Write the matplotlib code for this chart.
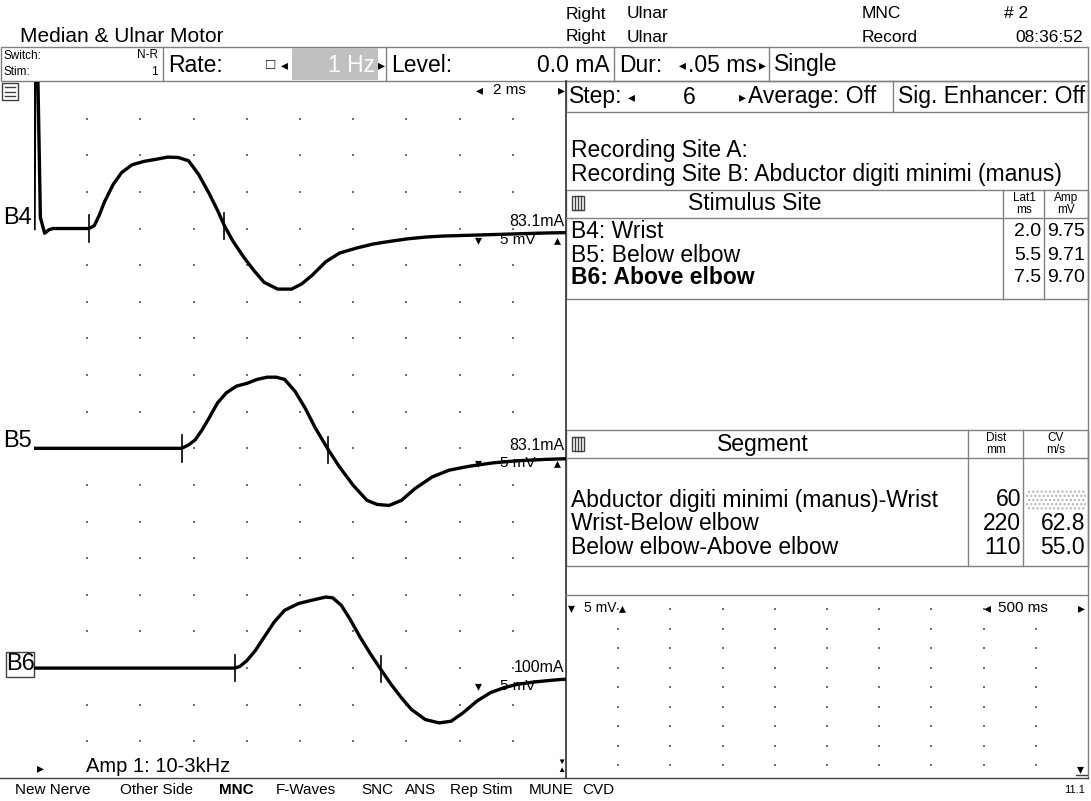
import numpy as np
import matplotlib

matplotlib.use("Agg")

import matplotlib.pyplot as plt
from matplotlib.patches import Rectangle

# motor responses: time (ms) and amplitude (mV) relative to each baseline
b4_t = [0.0, 0.04, 0.10, 0.24, 0.40, 0.55, 0.71, 2.06, 2.26, 2.45, 2.65, 2.97, 3.29, 3.68,
        4.13, 4.65, 5.03, 5.42, 5.81, 6.19, 6.58, 6.90, 7.16, 7.48, 7.87, 8.26, 8.65, 9.16,
        9.68, 10.06, 10.45, 10.97, 11.48, 12.13, 12.77, 13.42, 14.06, 14.71, 15.35, 16.65,
        17.94, 19.23, 20.0]
b4_mv = [0.0, 30.0, 30.0, 1.5, -0.65, -0.19, 0.0, 0.0, 0.37, 1.78, 3.64, 5.98, 7.62, 8.69,
         9.16, 9.49, 9.75, 9.70, 9.25, 7.38, 4.81, 2.48, 0.37, -1.73, -3.83, -5.70, -7.34, -8.27,
         -8.27, -7.57, -6.40, -4.53, -3.36, -2.66, -2.10, -1.73, -1.40, -1.17, -1.03, -0.89,
         -0.75, -0.61, -0.56]

b5_t = [0.0, 5.55, 5.81, 6.06, 6.32, 6.58, 6.90, 7.23, 7.61, 8.00, 8.39, 8.77, 9.10, 9.42,
        9.81, 10.19, 10.58, 11.07, 11.48, 12.00, 12.52, 12.90, 13.35, 13.81, 14.32, 14.97,
        15.61, 16.39, 17.29, 18.19, 19.23, 20.0]
b5_mv = [0.0, 0.0, 0.46, 1.15, 2.52, 4.13, 6.20, 7.57, 8.49, 8.86, 9.41, 9.71, 9.71, 9.41,
         7.80, 5.51, 2.75, -0.23, -2.52, -5.05, -7.11, -7.66, -7.80, -7.11, -5.51, -3.90,
         -2.98, -2.43, -1.97, -1.70, -1.51, -1.42]

b6_t = [0.0, 7.55, 7.74, 8.00, 8.32, 8.65, 9.03, 9.42, 9.94, 10.45, 10.97, 11.23, 11.55,
        11.87, 12.26, 12.65, 13.03, 13.42, 13.81, 14.19, 14.71, 15.23, 15.68, 16.13, 16.65,
        17.16, 17.68, 18.19, 18.84, 19.61, 20.0]
b6_mv = [0.0, 0.0, 0.23, 1.01, 2.39, 4.22, 6.29, 7.89, 8.81, 9.27, 9.70, 9.59, 8.58, 6.75,
         4.22, 1.93, -0.14, -2.20, -4.04, -5.65, -7.02, -7.48, -7.25, -6.11, -4.50, -3.35,
         -2.66, -2.20, -1.88, -1.61, -1.51]

sites = ["B4", "B5", "B6"]
site_names = ["Wrist", "Below elbow", "Above elbow"]
lat1 = ["2.0", "5.5", "7.5"]
amp = ["9.75", "9.71", "9.70"]
stim_level = ["83.1mA", "83.1mA", "100mA"]
onset_marks = [2.06, 5.55, 7.55]
neg_marks = [7.16, 11.07, 13.03]
baselines = [-20, -50, -80]   # mV, 5 mV per division

segments = ["Abductor digiti minimi (manus)-Wrist", "Wrist-Below elbow", "Below elbow-Above elbow"]
seg_dist = ["60", "220", "110"]
seg_cv = ["", "62.8", "55.0"]

menu_items = ["New Nerve", "Other Side", "MNC", "F-Waves", "SNC", "ANS", "Rep Stim", "MUNE", "CVD"]
menu_x = [15, 120, 219, 276, 361, 405, 450, 529, 582]

plt.rcParams['font.family'] = ['Liberation Sans', 'DejaVu Sans']

W, H = 1091, 801
fig = plt.figure(figsize=(W / 100, H / 100), dpi=100)

ui = fig.add_axes([0, 0, 1, 1])
ui.set_xlim(0, W)
ui.set_ylim(H, 0)
ui.axis('off')

GREY = '#808080'
BIG = 16.5


def txt(x, y, s, size=BIG, ha='left', **kw):
    ui.text(x, y, s, fontsize=size, ha=ha, va='center', **kw)


def box(x0, y0, x1, y1, color=GREY, lw=1.0, **kw):
    ui.add_patch(Rectangle((x0, y0), x1 - x0, y1 - y0, fill=False, ec=color, lw=lw, **kw))


def vline(x, y0, y1, color=GREY, lw=1.0):
    ui.plot([x, x], [y0, y1], color=color, lw=lw)


def hline(y, x0, x1, color=GREY, lw=1.0):
    ui.plot([x0, x1], [y, y], color=color, lw=lw)


# header
txt(20, 37, "Median & Ulnar Motor", 15)
for yy in (14, 37):
    txt(566, yy, "Right", 12.5)
    txt(627, yy, "Ulnar", 12.5)
txt(862, 14, "MNC", 12.5)
txt(862, 37, "Record", 12.5)
txt(1004, 14, "# 2", 12.5)
txt(1083, 37, "08:36:52", 12.5, ha='right')

# stimulator bar
box(1, 47, 1088, 81)
for xx in (163, 386, 614, 769):
    vline(xx, 47, 81)
txt(4, 56, "Switch:", 8.5)
txt(4, 72, "Stim:", 8.5)
txt(158, 55, "N-R", 8.5, ha='right')
txt(158, 72, "1", 8.5, ha='right')
txt(168, 65, "Rate:")
txt(266, 65, "\u25a1", 11)
txt(281, 65, "\u25c2", 10)
ui.add_patch(Rectangle((292, 48), 86, 32, color='#c0c0c0', lw=0))
txt(375, 65, "1 Hz", color='white', ha='right')
txt(378, 65, "\u25b8", 10)
txt(391, 65, "Level:")
txt(610, 65, "0.0 mA", ha='right')
txt(619, 65, "Dur:")
txt(679, 65, "\u25c2", 10)
txt(757, 65, ".05 ms", ha='right')
txt(759, 65, "\u25b8", 10)
txt(774, 65, "Single")

# step bar
box(566, 81, 1088, 112)
vline(893, 81, 112)
txt(569, 97, "Step:")
txt(628, 97, "\u25c2", 10)
txt(683, 97, "6")
txt(739, 97, "\u25b8", 10)
txt(748, 97, "Average: Off")
txt(898, 97, "Sig. Enhancer: Off")

# frame
vline(566, 81, 778, color='#404040', lw=1.3)
vline(1088, 81, 778)
hline(778, 0, 1088, color='#404040')
box(2, 83, 18, 100, color='#404040')
for yy in (87, 91.5, 96):
    hline(yy, 5, 15, color='#404040')

# left panel annotations
txt(476, 90, "\u25c2", 10)
txt(493, 90, "2 ms", 11)
txt(558, 90, "\u25b8", 10)
label_y = [218, 441, 664]
for i, s in enumerate(sites):
    txt(3 if i < 2 else 6, label_y[i], s, 17)
    txt(564, label_y[i] + 4, stim_level[i], 11.5, ha='right')
    txt(475, label_y[i] + 22, "\u25be", 10)
    txt(500, label_y[i] + 22, "5 mV", 11)
    if i < 2:
        txt(554, label_y[i] + 22, "\u25b4", 10)
box(6, 652, 34, 677, color='#404040')
txt(37, 768, "\u25b8", 10)
txt(86, 766, "Amp 1: 10-3kHz", 14.5)
txt(561, 762, "\u25bc", 6, ha='center')
txt(561, 771, "\u25b2", 6, ha='center')

# recording info
txt(571, 150, "Recording Site A:")
txt(571, 174, "Recording Site B: Abductor digiti minimi (manus)")

# stimulus table
box(566, 190, 1088, 299)
hline(218, 566, 1088)
vline(1003, 190, 299)
vline(1044, 190, 299)
box(572, 196, 584, 210, color='#404040')
for xx in (575, 578, 581):
    vline(xx, 196, 210, color='#404040')
txt(755, 204, "Stimulus Site", ha='center')
txt(1024, 198, "Lat1", 8.5, ha='center')
txt(1024, 210, "ms", 8.5, ha='center')
txt(1066, 198, "Amp", 8.5, ha='center')
txt(1066, 210, "mV", 8.5, ha='center')
for i in range(3):
    yy = 232 + 23 * i
    w = 'bold' if i == 2 else 'normal'
    txt(571, yy, sites[i] + ": " + site_names[i], weight=w)
    txt(1041, yy, lat1[i], 14, ha='right')
    txt(1085, yy, amp[i], 14, ha='right')

# segment table
box(566, 430, 1088, 566)
hline(458, 566, 1088)
vline(968, 430, 566)
vline(1023, 430, 566)
box(572, 437, 584, 451, color='#404040')
for xx in (575, 578, 581):
    vline(xx, 437, 451, color='#404040')
txt(763, 444, "Segment", ha='center')
txt(996, 438, "Dist", 8.5, ha='center')
txt(996, 450, "mm", 8.5, ha='center')
txt(1056, 438, "CV", 8.5, ha='center')
txt(1056, 450, "m/s", 8.5, ha='center')
for i in range(3):
    yy = 500 + 24 * i
    txt(571, yy, segments[i])
    txt(1021, yy, seg_dist[i], ha='right')
    if seg_cv[i]:
        txt(1085, yy, seg_cv[i], ha='right')
    else:
        ui.add_patch(Rectangle((1026, 490), 60, 21, fill=False, hatch='....',
                               ec='#b0b0b0', lw=0))

# lower right panel
hline(595, 566, 1088)
txt(568, 608, "\u25be", 10)
txt(584, 608, "5 mV", 10)
txt(619, 608, "\u25b4", 10)
txt(984, 608, "\u25c2", 10)
txt(998, 608, "500 ms", 11)
txt(1078, 608, "\u25b8", 10)
txt(1077, 769, "\u25be", 10)
hline(775, 1076, 1087, color='#404040')

# bottom menu
for s, xx in zip(menu_items, menu_x):
    txt(xx, 790, s, 11, weight='bold' if s == "MNC" else 'normal')
txt(1085, 790, "11.1", 8, ha='right')

# traces
ax = fig.add_axes([34 / W, 1 - 778 / H, (566 - 34) / W, (778 - 82) / H])
ax.set_xlim(0, 20)
ax.set_ylim(-95, 0)
ax.axis('off')
ax.patch.set_alpha(0)

gx, gy = np.meshgrid(np.arange(2, 19, 2), -5 * np.arange(1, 19))
ax.scatter(gx.ravel(), gy.ravel(), s=1.2, marker='s', color='#707070', lw=0)

traces = [(b4_t, b4_mv), (b5_t, b5_mv), (b6_t, b6_mv)]
for (t, mv), base, m1, m2 in zip(traces, baselines, onset_marks, neg_marks):
    y = np.array(mv) + base
    ax.plot(t, y, color='black', lw=2.4, solid_joinstyle='round')
    for m in (m1, m2):
        v = np.interp(m, t, y)
        ax.plot([m, m], [v - 1.8, v + 1.8], color='black', lw=1.2)

ax2 = fig.add_axes([566 / W, 1 - 778 / H, (1088 - 566) / W, (778 - 595) / H])
ax2.set_xlim(0, 5000)
ax2.set_ylim(-9.38, 0)
ax2.axis('off')
ax2.patch.set_alpha(0)
hx, hy = np.meshgrid(np.arange(500, 4600, 500), -0.72 - np.arange(9))
ax2.scatter(hx.ravel(), hy.ravel(), s=1.2, marker='s', color='#707070', lw=0)

fig.savefig("out.png", dpi=100)
